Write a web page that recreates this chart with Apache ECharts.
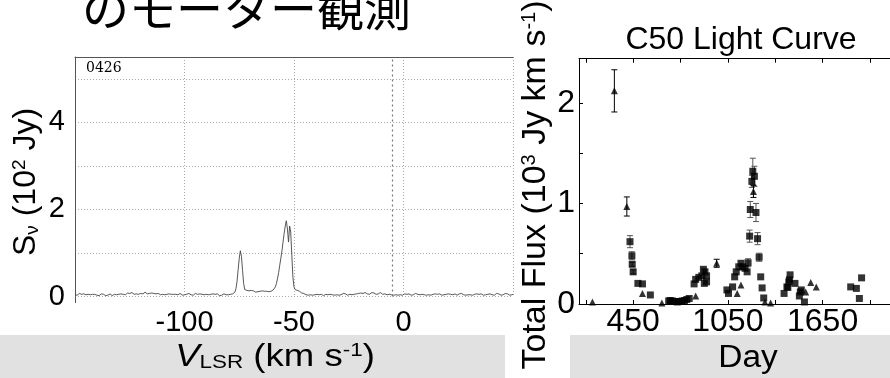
<!DOCTYPE html>
<html>
<head>
<meta charset="utf-8">
<script src="https://cdn.jsdelivr.net/npm/echarts@6/dist/echarts.min.js"></script>
<style>
  html, body { margin: 0; padding: 0; background: #fff; }
  #chart { width: 890px; height: 378px; }
</style>
</head>
<body>
<div id="chart"></div>
<script>
// spectrum: velocity axis (km/s) and flux density (10^2 Jy)
const VEL_START = -150;
const VEL_STEP = 0.5;
const SPEC_FLUX = [
    0.04, 0.06, 0.03, 0.05, 0.07, 0.04, 0.05, 0.03, 0.06, 0.05, 0.04, 0.07, 0.05, 0.03, 0.04, 0.06, 0.05, 0.03, 0.05, 0.04,
    0.03, 0.05, 0.02, 0.04, 0.06, 0.03, 0.05, 0.04, 0.02, 0.05, 0.03, 0.04, 0.06, 0.03, 0.02, 0.04, 0.05, 0.03, 0.04, 0.06,
    0.05, 0.03, 0.06, 0.08, 0.05, 0.07, 0.04, 0.06, 0.08, 0.05, 0.07, 0.06, 0.09, 0.06, 0.05, 0.08, 0.06, 0.07, 0.05, 0.08,
    0.07, 0.09, 0.06, 0.08, 0.10, 0.07, 0.06, 0.09, 0.07, 0.05, 0.08, 0.06, 0.07, 0.09, 0.06, 0.05, 0.07, 0.06, 0.04, 0.06,
    0.05, 0.07, 0.04, 0.06, 0.05, 0.03, 0.06, 0.04, 0.05, 0.07, 0.05, 0.03, 0.05, 0.06, 0.04, 0.05, 0.07, 0.04, 0.03, 0.05,
    0.04, 0.06, 0.05, 0.03, 0.07, 0.05, 0.04, 0.06, 0.03, 0.05, 0.07, 0.04, 0.05, 0.03, 0.06, 0.04, 0.05, 0.07, 0.04, 0.03,
    0.05, 0.06, 0.04, 0.07, 0.05, 0.03, 0.06, 0.04, 0.05, 0.03, 0.06, 0.04, 0.02, 0.05, 0.03, 0.04, 0.06, 0.03, 0.04, 0.05,
    0.04, 0.06, 0.05, 0.07, 0.06, 0.08, 0.10, 0.18, 0.35, 0.62, 0.88, 1.05, 0.92, 0.60, 0.30, 0.16, 0.12, 0.14, 0.11, 0.13,
    0.12, 0.14, 0.11, 0.13, 0.12, 0.10, 0.13, 0.11, 0.14, 0.12, 0.10, 0.13, 0.11, 0.12, 0.10, 0.12, 0.14, 0.11, 0.13, 0.12,
    0.13, 0.15, 0.17, 0.22, 0.30, 0.42, 0.55, 0.72, 0.88, 1.05, 1.25, 1.45, 1.62, 1.74, 1.55, 1.25, 1.62, 1.48, 0.95, 0.45,
    0.22, 0.16, 0.18, 0.14, 0.16, 0.12, 0.10, 0.08, 0.06, 0.07, 0.05, 0.04, 0.06, 0.03, 0.05, 0.04, 0.06, 0.03, 0.05, 0.04,
    0.03, 0.05, 0.02, 0.04, 0.03, 0.05, 0.03, 0.02, 0.04, 0.05, 0.03, 0.04, 0.02, 0.05, 0.03, 0.04, 0.06, 0.03, 0.05, 0.04,
    0.05, 0.03, 0.06, 0.04, 0.05, 0.07, 0.04, 0.06, 0.05, 0.03, 0.06, 0.05, 0.07, 0.04, 0.06, 0.05, 0.08, 0.06, 0.05, 0.07,
    0.06, 0.08, 0.05, 0.07, 0.06, 0.09, 0.07, 0.06, 0.08, 0.05, 0.07, 0.09, 0.06, 0.08, 0.07, 0.05, 0.08, 0.06, 0.07, 0.09,
    0.07, 0.05, 0.08, 0.06, 0.07, 0.04, 0.06, 0.05, 0.07, 0.04, 0.06, 0.03, 0.05, 0.04, 0.06, 0.03, 0.05, 0.04, 0.06, 0.03,
    0.04, 0.06, 0.03, 0.05, 0.04, 0.06, 0.05, 0.03, 0.06, 0.04, 0.05, 0.07, 0.04, 0.05, 0.06, 0.04, 0.07, 0.05, 0.06, 0.04,
    0.05, 0.03, 0.06, 0.04, 0.05, 0.03, 0.06, 0.05, 0.04, 0.06, 0.03, 0.05, 0.04, 0.06, 0.05, 0.03, 0.05, 0.04, 0.06, 0.05,
    0.04, 0.06, 0.03, 0.05, 0.07, 0.04, 0.05, 0.06, 0.04, 0.03, 0.05, 0.06, 0.04, 0.07, 0.05, 0.04, 0.06, 0.03, 0.05, 0.04,
    0.06, 0.04, 0.05, 0.03, 0.06, 0.05, 0.04, 0.06, 0.03, 0.05, 0.04, 0.06, 0.05, 0.03, 0.06, 0.04, 0.07, 0.05, 0.04, 0.06,
    0.05, 0.04, 0.06, 0.03, 0.05, 0.07, 0.04, 0.06, 0.05, 0.03, 0.06, 0.04, 0.05, 0.07, 0.04, 0.06, 0.05, 0.03, 0.06, 0.04,
    0.05
];
const VEL_LABELS = [-100, -50, 0];
const SPEC_Y_LABELS = [0, 2, 4];
const VEL_MARKER = -5;

// light curve, squares (day, flux 10^3 Jy km/s, error)
const SQ_DAY = [430, 442, 444, 450, 480, 509, 559, 675, 685, 700, 715, 730, 745, 760, 775, 790, 805,
    836, 846, 866, 885, 895, 901, 905, 915, 915,
    1044, 1054, 1080, 1093, 1103, 1119, 1133, 1143, 1159, 1172, 1178, 1188, 1192, 1202, 1208, 1218, 1228, 1238, 1248, 1258, 1267, 1277,
    1406, 1424, 1430, 1436, 1440, 1444, 1475, 1503, 1509, 1515, 1535, 1828, 1864, 1883, 1897];
const SQ_FLUX = [0.62, 0.48, 0.395, 0.32, 0.205, 0.2, 0.09, 0.03, 0.035, 0.03, 0.025, 0.02, 0.025, 0.03, 0.035, 0.045, 0.055,
    0.2, 0.245, 0.265, 0.28, 0.345, 0.205, 0.32, 0.22, 0.28,
    0.14, 0.105, 0.17, 0.27, 0.32, 0.37, 0.405, 0.37, 0.355, 0.32, 0.41, 0.675, 0.94, 1.22, 1.32, 1.27, 0.91, 0.65, 0.465, 0.27, 0.16, 0.06,
    0.105, 0.17, 0.165, 0.22, 0.24, 0.29, 0.205, 0.08, 0.12, 0.14, 0.02, 0.17, 0.155, 0.055, 0.26];
const SQ_ERR = [0.06, 0.04, 0.02, 0.02, 0, 0, 0, 0, 0, 0, 0, 0, 0, 0, 0, 0, 0,
    0, 0, 0, 0, 0, 0, 0, 0, 0,
    0, 0, 0, 0, 0, 0, 0, 0, 0, 0, 0.04, 0.06, 0.08, 0.06, 0.13, 0.1, 0.09, 0.06, 0.04, 0, 0, 0,
    0, 0, 0, 0, 0, 0, 0, 0, 0, 0, 0, 0, 0, 0, 0];

// light curve, triangles
const TRI_DAY = [192, 331, 410, 509, 632, 846, 979, 1109, 1133, 1212, 1285, 1321, 1543, 1575, 1610];
const TRI_FLUX = [0.02, 2.12, 0.97, 0.105, 0.01, 0.08, 0.405, 0.105, 0.19, 1.12, 0.02, 0.01, 0.12, 0.215, 0.17];
const TRI_ERR = [0, 0.21, 0.095, 0, 0, 0, 0.04, 0, 0, 0.06, 0, 0, 0, 0, 0];

const DAY_TICKS = [150, 450, 750, 1050, 1350, 1650, 1950];
const DAY_LABELS = [450, 1050, 1650];
const FLUX_TICKS = [0, 0.5, 1, 1.5, 2];
const FLUX_LABELS = [0, 1, 2];

const FONT = '"Liberation Sans", Arial, sans-serif';

const chart = echarts.init(document.getElementById('chart'), null, { renderer: 'canvas' });

const specData = SPEC_FLUX.map((s, i) => [VEL_START + i * VEL_STEP, s]);
const sqData = SQ_DAY.map((d, i) => [d, SQ_FLUX[i]]);
const triData = TRI_DAY.map((d, i) => [d, TRI_FLUX[i]]);
const errData = SQ_DAY.map((d, i) => [d, SQ_FLUX[i], SQ_ERR[i], 0])
    .concat(TRI_DAY.map((d, i) => [d, TRI_FLUX[i], TRI_ERR[i], 1]))
    .filter(e => e[2] > 0);

// error bars drawn through the axis scale
function renderErr(params, api) {
    const x = api.value(0), y = api.value(1), e = api.value(2);
    const hi = api.coord([x, y + e]);
    const lo = api.coord([x, y - e]);
    const color = api.value(3) ? '#000' : '#555';
    const style = { stroke: color, lineWidth: 1 };
    return {
        type: 'group',
        children: [
            { type: 'line', shape: { x1: hi[0], y1: hi[1], x2: lo[0], y2: lo[1] }, style: style },
            { type: 'line', shape: { x1: hi[0] - 3, y1: hi[1], x2: hi[0] + 3, y2: hi[1] }, style: style },
            { type: 'line', shape: { x1: lo[0] - 3, y1: lo[1], x2: lo[0] + 3, y2: lo[1] }, style: style }
        ]
    };
}

// rich styles for axis titles with sub/superscripts
function richSet(size) {
    const small = Math.round(size * 0.6);
    return {
        sub: { fontSize: small, fontFamily: FONT, fill: '#000', verticalAlign: 'bottom', padding: [Math.round(size * 0.33), 0, 0, 0] },
        sup: { fontSize: small, fontFamily: FONT, fill: '#000', verticalAlign: 'top', padding: [0, 0, Math.round(size * 0.4), 0] },
        it: { fontSize: size, fontFamily: FONT, fontStyle: 'italic', fill: '#000' },
        n: { fontSize: size, fontFamily: FONT, fill: '#000' }
    };
}

const noComma = v => String(v);

const option = {
    backgroundColor: '#fff',
    animation: false,
    textStyle: { fontFamily: FONT },
    grid: [
        { left: 75, top: 57, width: 438, bottom: 81.5 },
        { left: 579, top: 58.7, width: 331, bottom: 74 }
    ],
    xAxis: [
        {
            gridIndex: 0, type: 'value', min: -150, max: 50, interval: 50,
            axisLine: { show: false },
            axisTick: { show: false },
            axisLabel: { customValues: VEL_LABELS, formatter: noComma, fontSize: 29, color: '#000', margin: 12, fontFamily: FONT },
            splitLine: { show: true, lineStyle: { type: [1, 2], color: '#aaa', width: 1 } }
        },
        {
            gridIndex: 0, type: 'value', position: 'top', min: -150, max: 50,
            axisLine: { show: true, onZero: false, lineStyle: { color: '#555', width: 1 } },
            axisTick: { show: false }, axisLabel: { show: false }, splitLine: { show: false }
        },
        {
            gridIndex: 1, type: 'value', min: 107, max: 2077,
            axisLine: { show: true, onZero: false, lineStyle: { color: '#000', width: 1 } },
            axisTick: { show: true, inside: true, length: 4, customValues: DAY_TICKS, lineStyle: { color: '#000' } },
            axisLabel: { customValues: DAY_LABELS, formatter: noComma, fontSize: 32, color: '#000', margin: 2, fontFamily: FONT },
            splitLine: { show: false }
        },
        {
            gridIndex: 1, type: 'value', position: 'top', min: 107, max: 2077,
            axisLine: { show: true, onZero: false, lineStyle: { color: '#000', width: 1 } },
            axisTick: { show: true, inside: true, length: 4, customValues: DAY_TICKS, lineStyle: { color: '#000' } },
            axisLabel: { show: false }, splitLine: { show: false }
        }
    ],
    yAxis: [
        {
            gridIndex: 0, type: 'value', min: 0, max: 5.5, interval: 1,
            axisLine: { show: true, onZero: false, lineStyle: { color: '#555', width: 1 } },
            axisTick: { show: false },
            axisLabel: { customValues: SPEC_Y_LABELS, fontSize: 29, color: '#000', margin: 10, fontFamily: FONT },
            splitLine: { show: true, lineStyle: { type: [1, 2], color: '#aaa', width: 1 } }
        },
        {
            gridIndex: 1, type: 'value', min: 0, max: 2.44,
            axisLine: { show: true, onZero: false, lineStyle: { color: '#000', width: 1 } },
            axisTick: { show: true, inside: true, length: 4, customValues: FLUX_TICKS, lineStyle: { color: '#000' } },
            axisLabel: { customValues: FLUX_LABELS, fontSize: 32, color: '#000', margin: 4, fontFamily: FONT },
            splitLine: { show: false }
        }
    ],
    graphic: [
        // grey strip along the bottom
        { type: 'rect', z: -10, shape: { x: 0, y: 335, width: 505, height: 43 }, style: { fill: '#e1e1e1' } },
        { type: 'rect', z: -10, shape: { x: 570, y: 335, width: 320, height: 43 }, style: { fill: '#e1e1e1' } },
        // left axis runs a little below zero
        { type: 'line', shape: { x1: 75.5, y1: 296, x2: 75.5, y2: 303 }, style: { stroke: '#555', lineWidth: 1 } },
        // page title, cut off at the top
        {
            type: 'text', left: 82, top: -15,
            style: { text: 'のモーター観測', fontSize: 47, fontFamily: '"Noto Sans CJK JP", sans-serif', fill: '#000' }
        },
        {
            type: 'text', x: 86, y: 61,
            style: { text: '0426', fontSize: 14, fontFamily: '"DejaVu Serif", serif', fill: '#000' }
        },
        {
            type: 'text', x: 741, y: 40,
            style: { text: 'C50 Light Curve', fontSize: 32, fontFamily: FONT, fill: '#000', align: 'center', verticalAlign: 'middle' }
        },
        {
            type: 'text', x: 275, y: 357, scaleX: 1.18,
            style: {
                text: '{it|V}{sub|LSR}{n| (km s}{sup|-1}{n|)}', rich: richSet(31),
                align: 'center', verticalAlign: 'middle'
            }
        },
        {
            type: 'text', x: 748, y: 358, scaleX: 1.08,
            style: { text: 'Day', fontSize: 31, fontFamily: FONT, fill: '#000', align: 'center', verticalAlign: 'middle' }
        },
        {
            type: 'text', x: 26, y: 182, rotation: Math.PI / 2,
            style: {
                text: '{n|S}{sub|ν}{n| (10}{sup|2}{n| Jy)}', rich: richSet(32),
                align: 'center', verticalAlign: 'middle'
            }
        },
        {
            type: 'text', x: 536, y: 185, rotation: Math.PI / 2,
            style: {
                text: '{n|Total Flux (10}{sup|3}{n| Jy km s}{sup|-1}{n|)}', rich: richSet(34),
                align: 'center', verticalAlign: 'middle'
            }
        }
    ],
    series: [
        {
            type: 'line', xAxisIndex: 0, yAxisIndex: 0,
            data: specData, showSymbol: false, symbol: 'none',
            lineStyle: { color: '#444', width: 0.9 },
            markLine: {
                silent: true, symbol: 'none', label: { show: false },
                lineStyle: { type: [2, 3], color: '#777', width: 1.2 },
                data: [{ xAxis: VEL_MARKER }]
            }
        },
        {
            type: 'custom', xAxisIndex: 2, yAxisIndex: 1,
            renderItem: renderErr, data: errData, z: 1
        },
        {
            type: 'scatter', xAxisIndex: 2, yAxisIndex: 1,
            data: sqData, symbol: 'rect', symbolSize: 7,
            itemStyle: { color: '#000' }, z: 3
        },
        {
            type: 'scatter', xAxisIndex: 2, yAxisIndex: 1,
            data: triData, symbol: 'triangle', symbolSize: 7,
            itemStyle: { color: '#000' }, z: 3
        }
    ]
};

chart.setOption(option);
</script>
</body>
</html>
